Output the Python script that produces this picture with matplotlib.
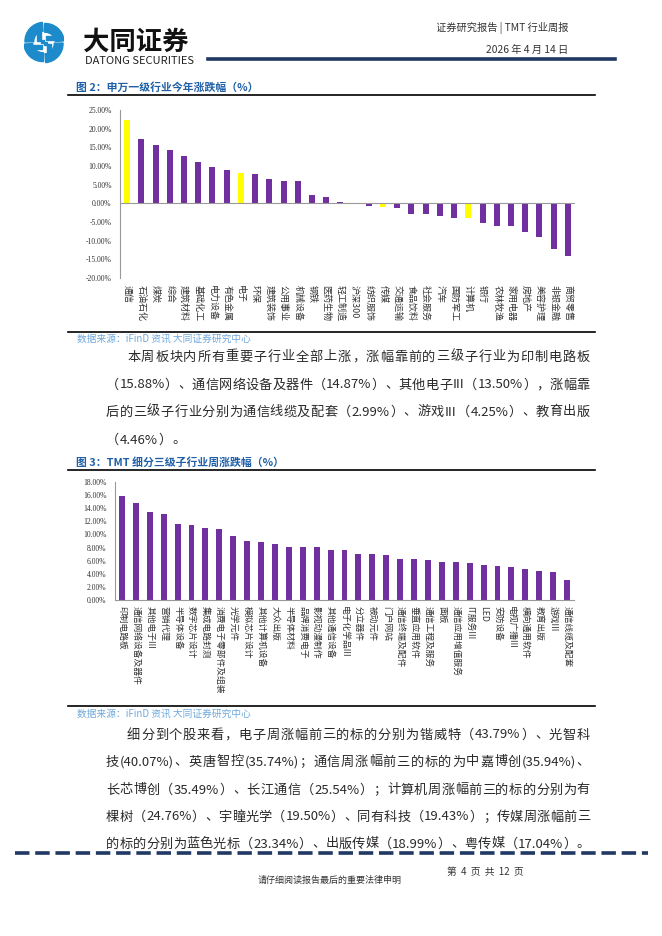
import re
import matplotlib
matplotlib.use("Agg")
import matplotlib.pyplot as plt
from matplotlib.patches import Wedge, Rectangle
from matplotlib.lines import Line2D

plt.rcParams['font.family'] = ['Noto Sans CJK SC', 'DejaVu Sans']
plt.rcParams['axes.unicode_minus'] = False

# ---- data ----
cats1 = ['通信', '石油石化', '煤炭', '综合', '建筑材料', '基础化工', '电力设备', '有色金属',
         '电子', '环保', '建筑装饰', '公用事业', '机械设备', '钢铁', '医药生物', '轻工制造',
         '沪深300', '纺织服饰', '传媒', '交通运输', '食品饮料', '社会服务', '汽车', '国防军工',
         '计算机', '银行', '农林牧渔', '家用电器', '房地产', '美容护理', '非银金融', '商贸零售']
vals1 = [22.2, 17.3, 15.6, 14.3, 12.7, 11.2, 9.6, 8.9, 8.1, 7.9, 6.4, 6.0, 5.9, 2.1, 1.8, 0.45,
         0.15, -0.8, -0.9, -1.2, -2.8, -2.9, -3.3, -3.9, -3.9, -5.2, -6.1, -6.2, -7.8, -9.1,
         -12.1, -14.1]
tmt1 = ['通信', '电子', '传媒', '计算机']

cats2 = ['印制电路板', '通信网络设备及器件', '其他电子III', '营销代理', '半导体设备', '数字芯片设计',
         '集成电路封测', '消费电子零部件及组装', '光学元件', '模拟芯片设计', '其他计算机设备',
         '大众出版', '半导体材料', '品牌消费电子', '影视动漫制作', '其他通信设备', '电子化学品III',
         '分立器件', '被动元件', '门户网站', '通信终端及配件', '垂直应用软件', '通信工程及服务',
         '面板', '通信应用增值服务', 'IT服务III', 'LED', '安防设备', '电视广播III', '横向通用软件',
         '教育出版', '游戏III', '通信线缆及配套']
vals2 = [15.88, 14.87, 13.50, 13.15, 11.6, 11.45, 11.05, 10.9, 9.7, 8.95, 8.9, 8.5, 8.1, 8.05,
         8.05, 7.7, 7.6, 6.95, 6.95, 6.8, 6.25, 6.25, 6.05, 5.8, 5.8, 5.58, 5.33, 5.18, 5.03,
         4.77, 4.46, 4.25, 2.99]

para1 = ['本周板块内所有重要子行业全部上涨，涨幅靠前的三级子行业为印制电路板',
         '（15.88%）、通信网络设备及器件（14.87%）、其他电子III（13.50%），涨幅靠',
         '后的三级子行业分别为通信线缆及配套（2.99%）、游戏III（4.25%）、教育出版',
         '（4.46%）。']
para2 = ['细分到个股来看，电子周涨幅前三的标的分别为锴威特（43.79%）、光智科',
         '技(40.07%)、英唐智控(35.74%)；通信周涨幅前三的标的为中嘉博创(35.94%)、',
         '长芯博创（35.49%）、长江通信（25.54%）；计算机周涨幅前三的标的分别为有',
         '棵树（24.76%）、宇瞳光学（19.50%）、同有科技（19.43%）；传媒周涨幅前三',
         '的标的分别为蓝色光标（23.34%）、出版传媒（18.99%）、粤传媒（17.04%）。']

PURPLE = '#7030A0'
YELLOW = '#FFFF00'
NAVY = '#1F3864'
TITLE_BLUE = '#1F5FA8'
SRC_BLUE = '#6FA8DC'
TXT = '#2a2a2a'

W, H = 662, 936
fig = plt.figure(figsize=(W / 100, H / 100), dpi=100)


def rect(x0, y0, x1, y1):
    return [x0 / W, 1 - y1 / H, (x1 - x0) / W, (y1 - y0) / H]


def hline(x0, x1, y, **kw):
    fig.add_artist(Line2D([x0 / W, x1 / W], [1 - y / H, 1 - y / H], **kw))


def put(x, y, s, **kw):
    return fig.text(x / W, 1 - y / H, s, **kw)


renderer = fig.canvas.get_renderer()


def justify(s, x0, x1, y, size=9.5, color=TXT, spread=True):
    tokens = re.findall(r'[ -~]+|.', s)
    texts = [fig.text(0, 0, t, fontsize=size, color=color, va='center') for t in tokens]
    widths = [t.get_window_extent(renderer).width for t in texts]
    gap = (x1 - x0 - sum(widths)) / (len(tokens) - 1) if spread else 0.5
    x = x0
    for t, w in zip(texts, widths):
        t.set_position((x / W, 1 - y / H))
        x += w + gap


# ---- header ----
logo = fig.add_axes(rect(24, 19, 64, 66))
logo.set_xlim(-1.05, 1.05)
logo.set_ylim(-1.2, 1.2)
logo.set_aspect('equal')
logo.axis('off')
LB = '#1C8ACB'
for k in range(4):
    a = 90 * k
    # pinwheel arm: thick arc plus an inward hook
    shift = [(0.06, 0.0), (0.0, 0.06), (-0.06, 0.0), (0.0, -0.06)][k]
    logo.add_patch(Wedge(shift, 1.0, a + 5, a + 92, width=0.46, color=LB))
hooks = [(0.08, 0.14, 0.5, 0.22), (-0.36, 0.08, 0.22, 0.5),
         (-0.58, -0.36, 0.5, 0.22), (0.14, -0.58, 0.22, 0.5)]
for hx, hy, hw, hh in hooks:
    logo.add_patch(Rectangle((hx, hy), hw, hh, color=LB))
logo.add_patch(Rectangle((-0.14, 0.0), 0.14, 0.14, color=LB))
logo.add_patch(Rectangle((0.0, -0.14), 0.14, 0.14, color=LB))

put(83, 42, '大同证券', fontsize=19, fontweight='bold', color='#111111', va='center')
put(85, 61, 'DATONG SECURITIES', fontsize=8, color='#222222', va='center')
hline(208, 615, 59, color=NAVY, lw=2.6)
put(568, 28, '证券研究报告 | TMT 行业周报', fontsize=7.4, color='#333333', ha='right', va='center')
put(568, 50, '2026 年 4 月 14 日', fontsize=7.4, color='#333333', ha='right', va='center')

# ---- figure 2 ----
put(76, 88, '图 2：申万一级行业今年涨跌幅（%）', fontsize=7.8, fontweight='bold',
    color=TITLE_BLUE, va='center')
hline(68, 595, 95, color='black', lw=1.2)

ax1 = fig.add_axes(rect(120, 110, 575, 278))
x1 = list(range(len(cats1)))
cols1 = [YELLOW if c in tmt1 else PURPLE for c in cats1]
ax1.bar(x1, vals1, width=0.42, color=cols1)
ax1.axhline(0, color='#999999', lw=0.8)
ax1.set_xlim(-0.5, len(cats1) - 0.5)
ax1.set_ylim(-20, 25)
ax1.set_yticks(range(-20, 26, 5))
ax1.set_yticklabels(['%.2f%%' % v for v in range(-20, 26, 5)], fontsize=5.5,
                    family=['Liberation Serif', 'DejaVu Serif'], color='#333333')
ax1.set_xticks(x1)
ax1.set_xticklabels(cats1, rotation=-90, fontsize=6.5, color='#333333', va='top', ha='center')
ax1.tick_params(axis='x', length=0, pad=5)
ax1.tick_params(axis='y', length=0, pad=6)
for s in ['top', 'right', 'bottom']:
    ax1.spines[s].set_visible(False)
ax1.spines['left'].set_color('#999999')
ax1.spines['left'].set_linewidth(0.8)

hline(68, 595, 332, color='black', lw=1.2)
put(77, 339, '数据来源：iFinD 资讯 大同证券研究中心', fontsize=7, color=SRC_BLUE,
    style='italic', va='center')

# ---- paragraph 1 ----
ys1 = [357, 385, 412, 440]
for i, (line, y) in enumerate(zip(para1, ys1)):
    x0 = 127 if i == 0 else 106
    justify(line, x0, 590, y, spread=(i < len(para1) - 1))

# ---- figure 3 ----
put(76, 462, '图 3：TMT 细分三级子行业周涨跌幅（%）', fontsize=7.8, fontweight='bold',
    color=TITLE_BLUE, va='center')
hline(68, 595, 470, color='black', lw=1.2)

ax2 = fig.add_axes(rect(115, 482, 574, 600))
x2 = list(range(len(cats2)))
ax2.bar(x2, vals2, width=0.43, color=PURPLE)
ax2.set_xlim(-0.5, len(cats2) - 0.5)
ax2.set_ylim(0, 18)
ax2.set_yticks(range(0, 19, 2))
ax2.set_yticklabels(['%.2f%%' % v for v in range(0, 19, 2)], fontsize=5.5,
                    family=['Liberation Serif', 'DejaVu Serif'], color='#333333')
ax2.set_xticks(x2)
ax2.set_xticklabels(cats2, rotation=-90, fontsize=6.3, color='#333333', va='top', ha='center')
ax2.tick_params(axis='x', length=0, pad=4)
ax2.tick_params(axis='y', length=0, pad=6)
for s in ['top', 'right']:
    ax2.spines[s].set_visible(False)
for s in ['left', 'bottom']:
    ax2.spines[s].set_color('#999999')
    ax2.spines[s].set_linewidth(0.8)

hline(68, 595, 706, color='black', lw=1.2)
put(77, 714, '数据来源：iFinD 资讯 大同证券研究中心', fontsize=7, color=SRC_BLUE,
    style='italic', va='center')

# ---- paragraph 2 ----
ys2 = [735, 762, 790, 817, 844]
for i, (line, y) in enumerate(zip(para2, ys2)):
    x0 = 127 if i == 0 else 106
    justify(line, x0, 590, y)

# ---- footer ----
fig.add_artist(Line2D([15 / W, 648 / W], [1 - 853 / H, 1 - 853 / H], color=NAVY, lw=2.6,
                      dashes=(4, 1.6)))
put(330, 880, '请仔细阅读报告最后的重要法律申明', fontsize=6.5, color='#333333',
    ha='center', va='center')
put(447, 872, '第  4  页  共  12  页', fontsize=7, color='#333333', va='center')

fig.savefig('out.png', dpi=100)
